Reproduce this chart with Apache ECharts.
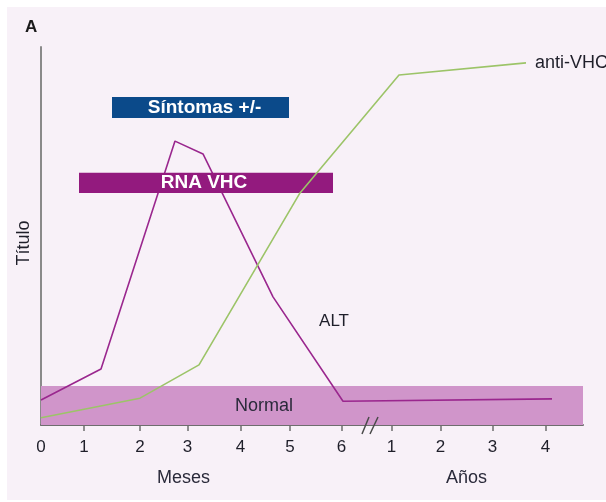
<!DOCTYPE html>
<html>
<head>
    <meta charset="utf-8">
    <script src="https://cdn.jsdelivr.net/npm/echarts@6.0.0/dist/echarts.min.js"></script>
    <title>VHC</title>
</head>
<body style="margin:0;background:#fff;">
    <div id="main" style="position:absolute;left:0;top:0;width:606px;height:502px;"></div>
    <script type="text/javascript">
        // x axis: 0-6 = meses, then a break, ~7-10 = años 1-4
        var tickPos = [0, 0.86, 1.98, 2.93, 3.99, 4.98, 6.01, 7.01, 7.99, 9.03, 10.09];
        var tickLabels = ['0', '1', '2', '3', '4', '5', '6', '1', '2', '3', '4'];
        var altX = [0, 1.2, 2.68, 3.24, 4.64, 6.04, 10.22];
        var altY = [6.6, 14.8, 75.1, 71.7, 33.9, 6.3, 6.9];
        var antiX = [0, 1.98, 3.16, 5.18, 7.16, 9.7];
        var antiY = [1.9, 7.1, 15.9, 61.4, 92.6, 95.8];
        var bandNames = ['Normal', 'RNA VHC', 'Síntomas +/-'];
        var bandX0 = [0, 0.76, 1.42];
        var bandX1 = [10.84, 5.84, 4.96];
        var bandY0 = [0, 61.4, 81.2];
        var bandY1 = [10.3, 66.7, 86.8];
        var breakAt = 6.6;
        var altLabel = [5.86, 27.5];

        var font = "'Liberation Sans', Arial, sans-serif";
        var bandStyle = [
            { fill: '#d095ca', text: '#2a2a3a', weight: 'normal', size: 18, dx: -48, z: 1 },
            { fill: '#931a7e', text: '#ffffff', weight: 'bold', size: 19, dx: -2, z: 3 },
            { fill: '#0b4a8a', text: '#ffffff', weight: 'bold', size: 19, dx: 4, z: 3 }
        ];

        function zip(xs, ys) {
            var out = [];
            for (var i = 0; i < xs.length; i++) {
                out.push([xs[i], ys[i]]);
            }
            return out;
        }

        var bands = [];
        for (var i = 0; i < bandNames.length; i++) {
            bands.push([bandX0[i], bandX1[i], bandY0[i], bandY1[i], i]);
        }

        function bandSeries(idx) {
            return {
                type: 'custom',
                z: bandStyle[idx].z,
                data: [bands[idx]],
                renderItem: function (params, api) {
                    var a = api.coord([api.value(0), api.value(3)]);
                    var b = api.coord([api.value(1), api.value(2)]);
                    var s = bandStyle[idx];
                    return {
                        type: 'group',
                        children: [{
                            type: 'rect',
                            shape: { x: a[0], y: a[1], width: b[0] - a[0], height: b[1] - a[1] },
                            style: { fill: s.fill }
                        }, {
                            type: 'text',
                            x: (a[0] + b[0]) / 2 + s.dx,
                            y: (a[1] + b[1]) / 2,
                            style: {
                                text: bandNames[idx],
                                fill: s.text,
                                font: s.weight + ' ' + s.size + 'px ' + font,
                                align: 'center',
                                verticalAlign: 'middle',
                                textAlign: 'center',
                                textVerticalAlign: 'middle'
                            }
                        }]
                    };
                }
            };
        }

        var myChart = echarts.init(document.getElementById('main'));

        var option = {
            backgroundColor: '#ffffff',
            animation: false,
            graphic: [{
                type: 'rect',
                left: 7,
                top: 7,
                z: -10,
                shape: { width: 600, height: 493 },
                style: { fill: '#f8f1f8' }
            }, {
                type: 'text',
                left: 25,
                top: 19,
                style: { text: 'A', fill: '#1a1a1a', font: 'bold 17px ' + font }
            }, {
                type: 'text',
                x: 24,
                y: 243,
                rotation: Math.PI / 2,
                style: {
                    text: 'Título',
                    fill: '#1f1f2a',
                    font: '18px ' + font,
                    align: 'center',
                    verticalAlign: 'middle',
                    textAlign: 'center',
                    textVerticalAlign: 'middle'
                }
            }, {
                type: 'text',
                left: 157,
                top: 469,
                style: { text: 'Meses', fill: '#2a2a3a', font: '18px ' + font }
            }, {
                type: 'text',
                left: 446,
                top: 469,
                style: { text: 'Años', fill: '#2a2a3a', font: '18px ' + font }
            }],
            grid: {
                left: 41,
                right: 23,
                top: 47,
                bottom: 77
            },
            xAxis: {
                type: 'value',
                min: 0,
                max: 10.84,
                splitLine: { show: false },
                axisLine: { lineStyle: { color: '#6e6e6e', width: 2 } },
                axisTick: {
                    customValues: tickPos.slice(1),
                    length: 6,
                    lineStyle: { color: '#6e6e6e', width: 1.5 }
                },
                axisLabel: {
                    customValues: tickPos,
                    margin: 14,
                    color: '#1f1f2a',
                    fontSize: 17,
                    fontFamily: font,
                    formatter: function (v) {
                        var k = tickPos.indexOf(v);
                        return k >= 0 ? tickLabels[k] : '';
                    }
                }
            },
            yAxis: {
                type: 'value',
                min: 0,
                max: 100,
                splitLine: { show: false },
                axisTick: { show: false },
                axisLabel: { show: false },
                axisLine: { lineStyle: { color: '#8a8a8a', width: 2 } }
            },
            series: [
                bandSeries(0),
                {
                    name: 'ALT',
                    type: 'line',
                    z: 2,
                    data: zip(altX, altY),
                    symbol: 'none',
                    lineStyle: { color: '#9a278e', width: 1.6 },
                    markPoint: {
                        symbolSize: 0,
                        data: [{ coord: altLabel, value: 'ALT' }],
                        label: {
                            show: true,
                            position: 'inside',
                            formatter: 'ALT',
                            color: '#1f1f2a',
                            fontSize: 17,
                            fontFamily: font
                        }
                    }
                },
                bandSeries(1),
                bandSeries(2),
                {
                    name: 'anti-VHC',
                    type: 'line',
                    z: 4,
                    data: zip(antiX, antiY),
                    symbol: 'none',
                    lineStyle: { color: '#9cc468', width: 1.6 },
                    endLabel: {
                        show: true,
                        formatter: 'anti-VHC',
                        distance: 9,
                        color: '#1f1f2a',
                        fontSize: 18,
                        fontFamily: font
                    }
                },
                {
                    type: 'custom',
                    z: 5,
                    data: [[breakAt, 0]],
                    renderItem: function (params, api) {
                        var p = api.coord([api.value(0), api.value(1)]);
                        var st = { stroke: '#4a4a4a', lineWidth: 1.5 };
                        return {
                            type: 'group',
                            children: [{
                                type: 'line',
                                shape: { x1: p[0] - 9, y1: p[1] + 9, x2: p[0] - 2, y2: p[1] - 8 },
                                style: st
                            }, {
                                type: 'line',
                                shape: { x1: p[0] - 1, y1: p[1] + 9, x2: p[0] + 7, y2: p[1] - 8 },
                                style: st
                            }]
                        };
                    }
                }
            ]
        };

        myChart.setOption(option);
    </script>
</body>
</html>
